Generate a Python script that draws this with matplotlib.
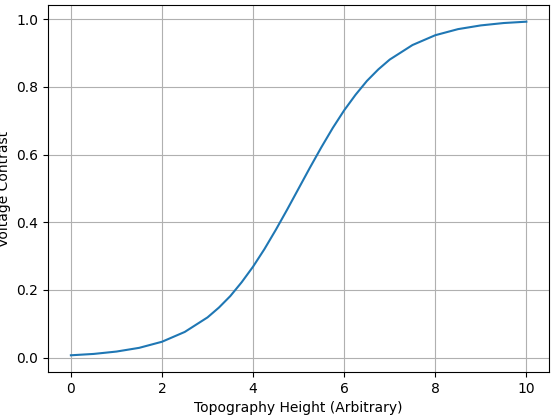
import matplotlib
matplotlib.use("Agg")
import matplotlib.pyplot as plt

height = [0, 0.5, 1, 1.5, 2, 2.5, 3, 3.25, 3.5, 3.75, 4, 4.25, 4.5, 4.75, 5, 5.25, 5.5, 5.75, 6,
          6.25, 6.5, 6.75, 7, 7.5, 8, 8.5, 9, 9.5, 10]
contrast = [0.007, 0.011, 0.018, 0.029, 0.047, 0.076, 0.119, 0.148, 0.182, 0.223, 0.269, 0.321,
            0.378, 0.438, 0.5, 0.562, 0.622, 0.679, 0.731, 0.777, 0.818, 0.852, 0.881,
            0.924, 0.953, 0.971, 0.982, 0.989, 0.993]

fig, ax = plt.subplots(figsize=(5.53, 4.17), dpi=100)
ax.plot(height, contrast)
ax.set_xlabel("Topography Height (Arbitrary)")
ax.set_ylabel("Voltage Contrast")
ax.grid(True)
fig.subplots_adjust(left=0.087, right=0.993, top=0.988, bottom=0.108)
fig.savefig("out.png", dpi=100)
